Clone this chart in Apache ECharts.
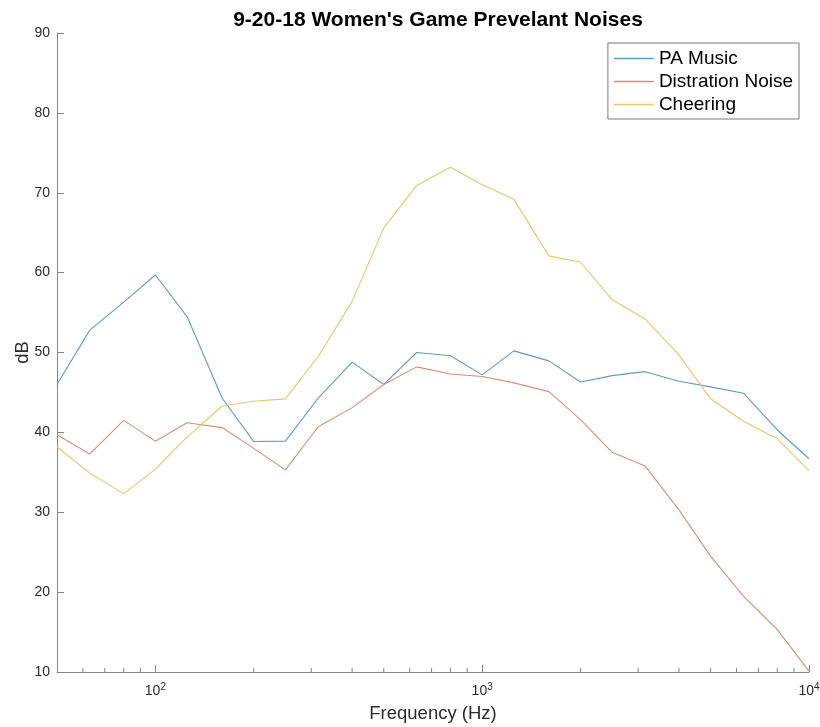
<!DOCTYPE html>
<html>
<head>
<meta charset="utf-8">
<script src="https://cdn.jsdelivr.net/npm/echarts@6/dist/echarts.min.js"></script>
<style>
  html, body { margin: 0; padding: 0; background: #ffffff; }
  #chart { width: 820px; height: 727px; }
</style>
</head>
<body>
<div id="chart"></div>
<script>
// One-third-octave band centre frequencies (Hz)
const frequencies = [50, 63, 80, 100, 125, 160, 200, 250, 315, 400, 500, 630, 800,
                     1000, 1250, 1600, 2000, 2500, 3150, 4000, 5000, 6300, 8000, 10000];

// Band levels (dB) per noise source
const paMusic = [46.0, 52.8, 56.3, 59.7, 54.5, 44.3, 38.85, 38.9, 44.3, 48.8, 46.0, 50.0, 49.6,
                 47.2, 50.2, 48.95, 46.3, 47.1, 47.6, 46.4, 45.7, 44.9, 40.3, 36.7];
const distractionNoise = [39.7, 37.3, 41.5, 38.9, 41.2, 40.6, 38.0, 35.3, 40.7, 43.1, 46.0, 48.2, 47.3,
                          47.0, 46.2, 45.1, 41.6, 37.5, 35.8, 30.3, 24.5, 19.5, 15.3, 10.1];
const cheering = [38.2, 34.9, 32.3, 35.4, 39.4, 43.3, 43.9, 44.2, 49.5, 56.4, 65.6, 70.9, 73.2,
                  71.0, 69.2, 62.1, 61.3, 56.6, 54.2, 49.7, 44.2, 41.4, 39.2, 35.2];

const seriesNames = ['PA Music', 'Distration Noise', 'Cheering'];
const seriesColors = ['#5a9ec4', '#d88f70', '#ebc566'];

// Minor tick positions on the logarithmic frequency axis
const minorTicks = [60, 70, 80, 90, 200, 300, 400, 500, 600, 700, 800, 900,
                    2000, 3000, 4000, 5000, 6000, 7000, 8000, 9000];

const yTicks = { min: 10, max: 90, step: 10 };

const axisGray = '#858585';
const labelColor = '#2b2b2b';
const fontFamily = 'Liberation Sans, Arial, Helvetica, sans-serif';

const pairs = values => frequencies.map((f, i) => [f, values[i]]);

const chart = echarts.init(document.getElementById('chart'), null, { renderer: 'canvas' });

const lineSeries = [paMusic, distractionNoise, cheering].map((vals, i) => ({
  name: seriesNames[i],
  type: 'line',
  data: pairs(vals),
  symbol: 'none',
  smooth: false,
  lineStyle: { color: seriesColors[i], width: 1.1 },
  itemStyle: { color: seriesColors[i] },
  z: 3,
  silent: true
}));

const minorTickSeries = {
  type: 'custom',
  name: 'minor-ticks',
  data: minorTicks.map(v => [v, yTicks.min]),
  silent: true,
  z: 5,
  renderItem: function (params, api) {
    const p = api.coord([api.value(0), api.value(1)]);
    return {
      type: 'line',
      shape: { x1: p[0], y1: p[1], x2: p[0], y2: p[1] - 4 },
      style: { stroke: axisGray, lineWidth: 1 }
    };
  }
};

chart.setOption({
  animation: false,
  backgroundColor: '#ffffff',
  title: {
    text: "9-20-18 Women's Game Prevelant Noises",
    left: 433,
    textAlign: 'center',
    top: 5,
    textStyle: { fontFamily, fontWeight: 'bold', fontSize: 21, color: '#000000' }
  },
  legend: {
    data: seriesNames,
    orient: 'vertical',
    right: 21,
    top: 43,
    width: 192,
    padding: [6, 6, 5, 6],
    itemGap: 4,
    itemWidth: 40,
    itemHeight: 1.5,
    icon: 'rect',
    borderColor: '#7a7a7a',
    borderWidth: 1,
    borderRadius: 0,
    backgroundColor: '#ffffff',
    textStyle: { fontFamily, fontSize: 19, color: '#000000', lineHeight: 19 }
  },
  grid: { left: 57, right: 11, top: 33, bottom: 55, containLabel: false, outerBoundsMode: 'none' },
  xAxis: {
    type: 'log',
    logBase: 10,
    min: 50,
    max: 10000,
    name: 'Frequency (Hz)',
    nameLocation: 'middle',
    nameGap: 32,
    nameMoveOverlap: false,
    nameTextStyle: { fontFamily, fontSize: 18.5, color: labelColor },
    axisLine: { show: true, lineStyle: { color: axisGray, width: 1 } },
    axisTick: { show: true, inside: true, length: 7, lineStyle: { color: axisGray } },
    splitLine: { show: false },
    axisLabel: {
      margin: 10,
      color: labelColor,
      fontFamily,
      formatter: function (v) {
        const e = Math.log10(v);
        if (Math.abs(e - Math.round(e)) > 1e-6) return '';
        return '{b|10}{s|' + Math.round(e) + '}';
      },
      rich: {
        b: { fontSize: 14, fontFamily, color: labelColor },
        s: { fontSize: 10, fontFamily, color: labelColor, padding: [0, 0, 9, 0] }
      }
    }
  },
  yAxis: {
    type: 'value',
    min: yTicks.min,
    max: yTicks.max,
    interval: yTicks.step,
    name: 'dB',
    nameLocation: 'middle',
    nameGap: 25,
    nameMoveOverlap: false,
    nameTextStyle: { fontFamily, fontSize: 18.5, color: labelColor },
    axisLine: { show: true, lineStyle: { color: axisGray, width: 1 } },
    axisTick: { show: true, inside: true, length: 7, lineStyle: { color: axisGray } },
    splitLine: { show: false },
    axisLabel: { margin: 7, fontSize: 14, fontFamily, color: labelColor }
  },
  series: [...lineSeries, minorTickSeries]
});
</script>
</body>
</html>
